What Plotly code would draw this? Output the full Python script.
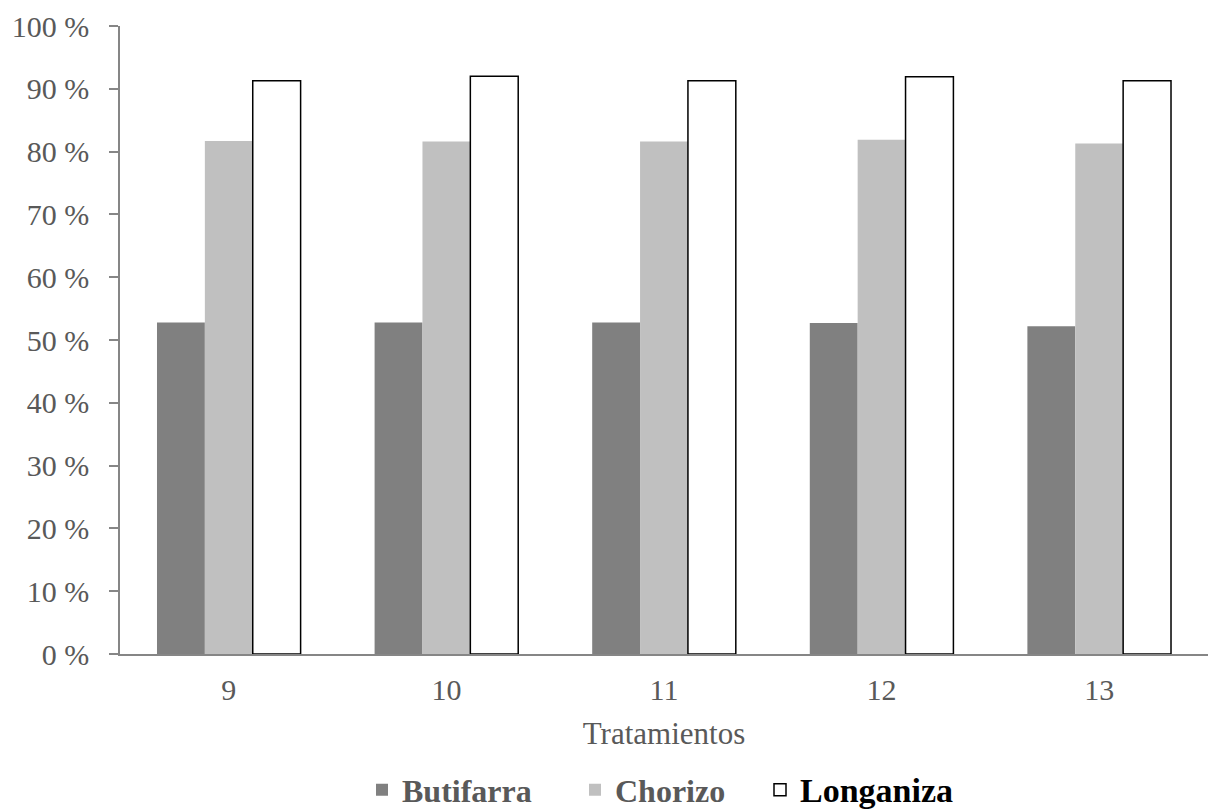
import plotly.graph_objects as go

# Treatments on the x axis and percentage per sausage type
tratamientos = ["9", "10", "11", "12", "13"]
butifarra = [52.8, 52.8, 52.8, 52.7, 52.2]
chorizo = [81.7, 81.6, 81.6, 81.9, 81.3]
longaniza = [91.3, 92.0, 91.3, 91.9, 91.3]

y_ticks = [0, 10, 20, 30, 40, 50, 60, 70, 80, 90, 100]
y_tick_labels = [f"{v} %" for v in y_ticks]

serif = "Liberation Serif, Times New Roman, serif"
grey_text = "#595959"

fig = go.Figure()
fig.add_trace(go.Bar(
    x=tratamientos, y=butifarra, name="<b>Butifarra</b>",
    marker=dict(color="#808080", line=dict(width=0)),
    legend="legend",
))
fig.add_trace(go.Bar(
    x=tratamientos, y=chorizo, name="<b>Chorizo</b>",
    marker=dict(color="#C0C0C0", line=dict(width=0)),
    legend="legend2",
))
fig.add_trace(go.Bar(
    x=tratamientos, y=longaniza,
    name="<span style='color:#000000;font-size:34px'><b>Longaniza</b></span>",
    marker=dict(color="#FFFFFF", line=dict(color="#000000", width=1.5)),
    legend="legend3",
))


def legend_box(x_px):
    # one legend entry, placed along the bottom of the figure
    return dict(
        orientation="h", xref="container", yref="container",
        x=x_px / 1209, xanchor="left", y=0.026, yanchor="middle",
        font=dict(family=serif, size=32, color=grey_text),
        itemwidth=30, bgcolor="rgba(0,0,0,0)",
    )


fig.update_layout(
    width=1209, height=811,
    barmode="group", bargap=0.34, bargroupgap=0,
    plot_bgcolor="white", paper_bgcolor="white",
    margin=dict(l=120, r=1, t=26, b=157),
    font=dict(family=serif, size=30, color=grey_text),
    showlegend=True,
    legend=legend_box(362),
    legend2=legend_box(575),
    legend3=legend_box(760),
    xaxis=dict(
        showline=True, linecolor="#868686", linewidth=1.5,
        ticks="", showgrid=False, ticklabelstandoff=8,
        title=dict(text="Tratamientos", standoff=18,
                   font=dict(family=serif, size=31, color=grey_text)),
    ),
    yaxis=dict(
        range=[0, 100], tickvals=y_ticks, ticktext=y_tick_labels,
        showline=True, linecolor="#868686", linewidth=1.5,
        ticks="outside", ticklen=9, tickcolor="#868686", tickwidth=1.5,
        showgrid=False, zeroline=False, ticklabelstandoff=14,
    ),
)

fig.write_html("out.html")
